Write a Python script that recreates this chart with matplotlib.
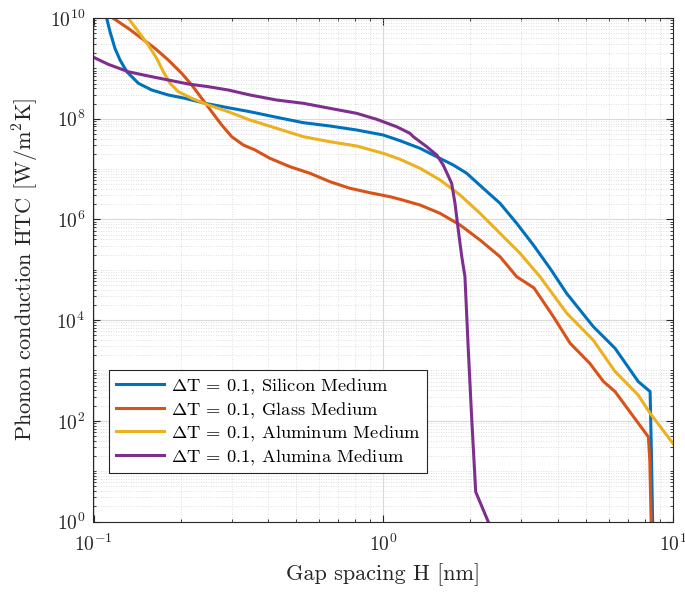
import numpy as np
import matplotlib
matplotlib.use("Agg")
import matplotlib.pyplot as plt
from matplotlib.ticker import LogLocator, NullFormatter, FixedLocator

plt.rcParams['font.family'] = ['cmr10', 'DejaVu Serif']
plt.rcParams['mathtext.fontset'] = 'cm'
plt.rcParams['axes.formatter.use_mathtext'] = True

# log10(H) and log10(HTC) values
si_logx = [-0.9545, -0.943, -0.926, -0.9085, -0.885, -0.845, -0.799, -0.742, -0.684, -0.615, -0.535,
           -0.46, -0.368, -0.276, -0.184, -0.092, 0.0, 0.058, 0.127, 0.1845, 0.2418, 0.288, 0.345,
           0.403, 0.4605, 0.518, 0.5755, 0.633, 0.725, 0.80, 0.880, 0.921, 0.925, 0.93]
si_logy = [9.994, 9.728, 9.398, 9.166, 8.933, 8.703, 8.570, 8.471, 8.405, 8.306, 8.218,
           8.139, 8.028, 7.921, 7.855, 7.776, 7.676, 7.563, 7.412, 7.245, 7.080, 6.916, 6.618,
           6.320, 5.922, 5.492, 5.029, 4.53, 3.87, 3.44, 2.78, 2.58, 1.5, -0.1]

gl_logx = [-0.9317, -0.880, -0.834, -0.788, -0.742, -0.6956, -0.661, -0.6266, -0.592, -0.5576, -0.523,
           -0.483, -0.443, -0.391, -0.322, -0.253, -0.184, -0.115, -0.046, 0.023, 0.058, 0.127,
           0.196, 0.265, 0.334, 0.403, 0.4605, 0.52, 0.587, 0.645, 0.713, 0.76, 0.80, 0.915,
           0.92, 0.925]
gl_logy = [9.994, 9.795, 9.597, 9.398, 9.166, 8.901, 8.669, 8.405, 8.139, 7.875, 7.643,
           7.478, 7.38, 7.213, 7.047, 6.916, 6.749, 6.618, 6.530, 6.451, 6.399, 6.286,
           6.121, 5.889, 5.591, 5.259, 4.862, 4.64, 4.07, 3.54, 3.14, 2.78, 2.58, 1.68,
           1.2, -0.1]

al_logx = [-0.880, -0.845, -0.811, -0.782, -0.759, -0.736, -0.707, -0.661, -0.604, -0.535, -0.46,
           -0.368, -0.276, -0.184, -0.092, 0.0, 0.058, 0.127, 0.196, 0.265, 0.334, 0.403,
           0.472, 0.541, 0.633, 0.725, 0.80, 0.880, 0.921, 1.0]
al_logy = [9.994, 9.728, 9.464, 9.199, 8.933, 8.703, 8.536, 8.405, 8.272, 8.139, 7.974,
           7.809, 7.643, 7.543, 7.458, 7.313, 7.194, 7.015, 6.783, 6.485, 6.121, 5.724,
           5.327, 4.862, 4.14, 3.6, 2.98, 2.51, 2.15, 1.55]

am_logx = [-1.0, -0.949, -0.880, -0.811, -0.742, -0.673, -0.604, -0.535, -0.46, -0.368, -0.276,
           -0.184, -0.092, -0.0226, 0.046, 0.092, 0.1037, 0.150, 0.1845, 0.207, 0.236, 0.2476,
           0.259, 0.271, 0.282, 0.2935, 0.305, 0.319, 0.362]
am_logy = [9.22, 9.080, 8.933, 8.848, 8.769, 8.689, 8.636, 8.570, 8.471, 8.371, 8.306,
           8.206, 8.107, 7.988, 7.841, 7.71, 7.643, 7.444, 7.279, 7.080, 6.717, 6.320,
           5.789, 5.259, 4.862, 3.41, 2.08, 0.59, 0.0]

labels = [r"$\Delta$T = 0.1, Silicon Medium",
          r"$\Delta$T = 0.1, Glass Medium",
          r"$\Delta$T = 0.1, Aluminum Medium",
          r"$\Delta$T = 0.1, Alumina Medium"]
colors = ["#0072BD", "#D95319", "#EDB120", "#7E2F8E"]
y_ticks = [1e0, 1e2, 1e4, 1e6, 1e8, 1e10]

series = [(si_logx, si_logy), (gl_logx, gl_logy), (al_logx, al_logy), (am_logx, am_logy)]

fig = plt.figure(figsize=(6.85, 5.97), dpi=100)
ax = fig.add_axes([93.5/685, 1 - 521.5/597, (673-93.5)/685, (521.5-18)/597])

for (lx, ly), c, lab in zip(series, colors, labels):
    ax.plot(10**np.array(lx), 10**np.array(ly), color=c, lw=2.2, label=lab,
            solid_joinstyle='round')

ax.set_xscale('log')
ax.set_yscale('log')
ax.set_xlim(0.1, 10)
ax.set_ylim(1, 1e10)
ax.yaxis.set_major_locator(FixedLocator(y_ticks))
ax.yaxis.set_minor_locator(LogLocator(base=10, subs=np.arange(1, 10), numticks=30))
ax.yaxis.set_minor_formatter(NullFormatter())
ax.xaxis.set_minor_formatter(NullFormatter())

ax.grid(True, which='major', color='#dadada', lw=0.8, ls='-')
ax.grid(True, which='minor', color='#d4d4d4', lw=0.6, ls=(0, (1, 2)))

ax.tick_params(which='both', direction='in', top=True, right=True, colors='#262626')
ax.tick_params(axis='x', which='major', labelsize=14, pad=9)
ax.tick_params(axis='y', which='major', labelsize=14, pad=6)
ax.tick_params(which='major', length=5)
ax.tick_params(which='minor', length=2.5)
for s in ax.spines.values():
    s.set_color('#262626')
    s.set_linewidth(0.8)

ax.set_xlabel("Gap spacing H [nm]", fontsize=16, color='#262626', labelpad=6)
ax.set_ylabel(r"Phonon conduction HTC [W/m$^2$K]", fontsize=16, color='#262626', labelpad=6)

leg = ax.legend(loc='lower left', bbox_to_anchor=(0.027, 0.0957), fontsize=13.3,
                frameon=True, fancybox=False, edgecolor='#262626', framealpha=1,
                handlelength=2.6, borderaxespad=0, labelspacing=0.2, handletextpad=0.4,
                borderpad=0.35)
leg.get_frame().set_linewidth(0.8)

fig.savefig("out.png", dpi=100)
